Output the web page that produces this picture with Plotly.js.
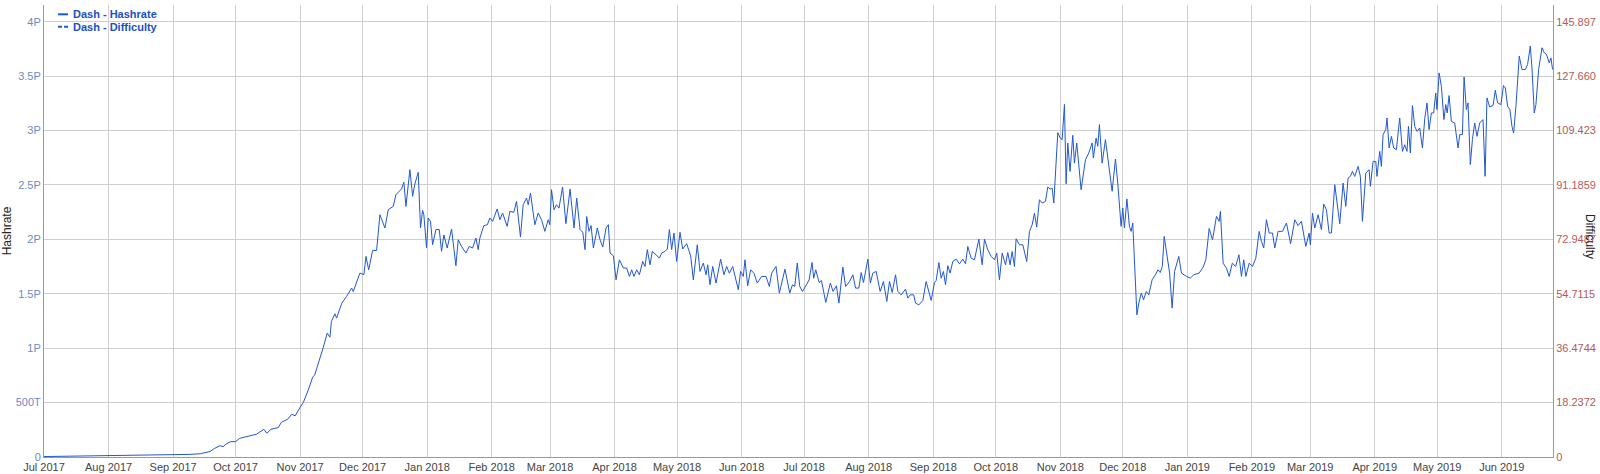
<!DOCTYPE html>
<html>
<head>
<meta charset="utf-8">
<script src="https://cdn.plot.ly/plotly-3.0.1.min.js"></script>
<style>html,body{margin:0;padding:0;background:#fff;}#chart{width:1600px;height:474px;}</style>
</head>
<body>
<div id="chart"></div>
<script>
// Series start date; each point is [days since start, hashrate in PH/s]
const startDate = '2017-07-01';
const hashratePoints = [
[0,0.004],[10,0.006],[20,0.008],[31,0.011],[40,0.013],[50,0.016],[62,0.02],[70,0.024],[75,0.03],[78,0.04],
[79.7,0.05],[82,0.08],[84.5,0.104],[86,0.095],[87.5,0.12],[89.6,0.141],[92,0.141],[94,0.172],[98,0.193],[102,0.209],
[105.6,0.255],[107,0.218],[109,0.255],[112.5,0.27],[114,0.319],[117,0.347],[119,0.393],[120.6,0.378],[123,0.457],[124.5,0.5],
[126.9,0.616],[129,0.733],[130,0.755],[132.5,0.899],[134,1.0],[136,1.138],[137.3,1.1],[138,1.245],[139.7,1.316],[140.5,1.276],
[143,1.414],[145.3,1.475],[147.7,1.552],[148.5,1.521],[151.7,1.69],[153.6,1.675],[154.6,1.843],[155.9,1.72],[157.8,1.898],[159.7,1.898],
[161.3,2.226],[163.7,2.104],[165.3,2.272],[167.7,2.303],[169,2.41],[171.7,2.463],[172.8,2.524],[173.8,2.303],
[175.7,2.64],[177,2.395],[178,2.502],[179.7,2.616],[180.8,2.104],[181.8,2.266],[182.4,2.226],[183.7,1.92],[184.5,2.196],[185.6,2.165],
[186.6,1.95],[188.2,2.09],[189.8,2.09],[190.9,1.89],[192,2.04],[193.6,1.92],[195.7,2.095],[197.8,1.757],[198.9,1.996],[200.5,1.935],
[202.6,1.874],[204.2,1.935],[205.8,1.92],[207.4,2.012],[208.5,1.905],[209.3,2.012],[211.2,2.126],[212.9,2.134],[214.1,2.196],[215.4,2.165],
[217.6,2.279],[218.9,2.18],[220.2,2.242],[222.4,2.119],[223.7,2.257],[225.6,2.248],[226.9,2.349],[228.8,2.021],[230.1,2.318],[231.7,2.379],
[232.5,2.318],[233.6,2.425],[235.7,2.134],[237.3,2.242],[238.9,2.18],[240.5,2.073],[242.1,2.18],[242.9,2.134],[243.7,2.456],[244.9,2.272],
[246.1,2.318],[247.3,2.287],[249,2.481],[250.6,2.144],[252.6,2.462],[254.5,2.104],[255.8,2.379],[257.4,2.09],[258.7,2.065],[259.8,1.905],
[260.6,2.21],[261.7,2.073],[262.7,2.126],[263.8,1.92],[265.7,2.104],[267,1.996],[268.3,1.929],[269.9,2.104],[271,2.134],[271.8,1.874],
[273.4,1.849],[274.7,1.628],[276.3,1.812],[278.2,1.736],[279.8,1.736],[281.1,1.659],[282.2,1.72],[283.3,1.659],[284.6,1.72],[285.9,1.674],
[287.5,1.797],[288.6,1.751],[289.7,1.905],[291,1.766],[292.1,1.889],[293.9,1.858],[295.5,1.828],[296.6,1.874],[298.2,1.889],[299.3,1.911],
[300.3,2.09],[301.4,1.905],[302.5,2.058],[303.8,1.797],[305.4,2.065],[306.7,1.911],[307.8,1.935],[308.6,1.96],[310.5,1.849],[311.8,1.628],
[313.7,1.95],[315,1.705],[316.6,1.782],[317.9,1.674],[318.7,1.766],[319.8,1.582],[321.1,1.751],[322.7,1.598],[324.9,1.818],[326.5,1.674],
[327.8,1.751],[329.1,1.689],[330.7,1.751],[333.4,1.537],[334.5,1.705],[335.8,1.659],[336.6,1.812],[337.9,1.573],[339.3,1.72],[340.9,1.689],
[342.5,1.598],[344.6,1.659],[346.7,1.659],[348.3,1.567],[349.4,1.689],[351.5,1.751],[353.1,1.506],[355.8,1.726],[358.1,1.506],
[359.4,1.582],[360.5,1.567],[361.7,1.782],[362.9,1.567],[364.2,1.521],[366.1,1.582],[367.4,1.628],[368.8,1.787],[369.6,1.643],[370.6,1.72],
[372.2,1.603],[373.3,1.622],[375.4,1.42],[377.6,1.598],[378.9,1.521],[380.5,1.573],[381.7,1.414],[383.6,1.745],[384.9,1.567],[386.8,1.613],
[388.4,1.674],[389.7,1.552],[391.3,1.552],[392.4,1.695],[393.5,1.603],[395.6,1.818],[396.8,1.598],[398,1.69],[399.6,1.705],[400.4,1.628],
[401.5,1.521],[403.1,1.613],[404.7,1.429],[406,1.613],[407.3,1.512],[408.9,1.674],[410,1.521],[411.6,1.49],[413.7,1.542],[414.8,1.46],
[416,1.49],[417.6,1.49],[418.5,1.414],[420.1,1.398],[422,1.438],[423.6,1.613],[424.9,1.521],[426,1.438],[427.6,1.603],[428.4,1.622],
[429.7,1.787],[430.8,1.643],[431.9,1.705],[432.9,1.582],[434,1.757],[435.1,1.69],[436.4,1.797],[438,1.818],[439.6,1.775],[441.2,1.818],
[442.5,1.775],[443.6,1.934],[445.2,1.827],[446.8,1.812],[448.9,2.002],[450.5,1.766],[451.6,2.002],[453.2,1.904],[454.8,1.843],[456.4,1.812],
[457.5,1.873],[458.8,1.628],[460.1,1.873],[461.7,1.766],[462.8,1.879],[463.9,1.766],[464.9,1.888],[466,1.751],[466.8,2.005],[468.4,1.95],
[470,1.95],[471.9,1.796],[473.2,2.073],[474.5,2.134],[475.6,2.241],[476.7,2.113],[478,2.364],[479.3,2.334],[480.9,2.349],[482,2.48],
[483.2,2.462],[484.1,2.471],[484.9,2.334],[486,2.748],[486.8,2.98],[488,2.93],[488.9,2.916],[490,3.24],[490.8,2.51],[491.6,2.885],
[492.7,2.624],[494,2.956],[494.8,2.7],[495.9,2.885],[497.2,2.594],[498,2.456],[500.1,2.732],[501.7,2.793],[503.3,2.885],[503.9,2.747],
[505.2,2.93],[506,2.855],[506.8,3.054],[508.1,2.7],[509.7,2.916],[511.3,2.685],[512.9,2.441],[514.5,2.738],[515.6,2.517],[517.2,2.119],
[518,2.288],[518.8,2.104],[520,2.371],[521.2,2.119],[522,2.073],[522.8,2.15],[524.8,1.306],[525.7,1.414],[526.9,1.506],[528,1.445],
[529.3,1.521],[530.5,1.49],[532.1,1.628],[533.7,1.674],[534.9,1.72],[536,1.695],[537,1.751],[537.9,2.027],[539.2,1.843],[540.5,1.69],
[541.7,1.368],[542.9,1.705],[544.9,1.843],
[546.2,1.69],[548.6,1.659],[550.5,1.644],[552.1,1.674],[554.7,1.69],[556.6,1.745],[557.9,1.812],[559.5,2.1],[561.1,1.996],[563,2.211],
[564.3,2.165],[564.9,2.257],[566.2,1.781],[567.8,1.735],[569.1,1.659],[570.6,1.781],[572.2,1.751],[573.8,1.858],[575,1.659],[576.1,1.812],
[577.1,1.659],[578.7,1.781],[580.3,1.751],[581.9,1.827],[583.5,2.073],[584.6,1.981],[585.7,1.92],[587,2.18],[588.3,2.058],[589.9,2.058],
[591,1.92],[592.6,2.073],[594.7,2.073],[596.6,2.15],[598.6,1.96],[600.6,2.18],[602.2,2.126],[603.8,2.165],[605.9,1.935],[607.5,2.058],
[608.1,1.95],[609.1,2.241],[610.2,2.104],[611.8,2.226],[613.4,2.089],[614.5,2.324],[615.8,2.272],[617.1,2.058],[618.2,2.058],[619.8,2.502],
[620.9,2.333],[622.2,2.143],[623.8,2.517],[625.1,2.303],[626.2,2.563],[627.3,2.578],[628.3,2.624],[629.4,2.578],[631,2.67],[632.1,2.578],
[633.1,2.165],[634.7,2.609],[636.3,2.639],[636.9,2.487],[638.2,2.716],[639.5,2.716],[640.1,2.578],[641.4,2.808],[642.2,2.67],[643,2.962],
[644.3,3.008],[644.9,3.115],[645.9,2.839],[647,2.946],[648.1,2.839],[649.4,2.824],[651,3.115],[652.3,2.808],[653.4,2.869],[654.5,2.808],
[655.2,3.038],[656.1,2.793],[657.1,3.229],[658.2,3.038],[659.3,2.992],[660.6,3.023],[661.9,2.839],[663,3.106],[664.1,3.253],[665.1,3.008],
[666.2,3.161],[667.3,3.161],[668.3,3.345],[668.9,3.192],[669.9,3.529],[671,3.406],[672.2,3.1],[673.1,3.238],[673.8,3.161],[674.7,3.321],
[675.8,3.084],[677.4,3.069],[679,2.839],[679.8,2.962],[681.1,2.962],[681.9,3.492],[683,3.192],[683.8,3.253],[684.9,2.686],[685.9,2.916],
[687,3.069],[688.1,2.946],[689.4,3.069],[691,3.1],[692,2.579],[692.9,3.299],[694.2,3.216],[695.8,3.229],[696.9,3.37],[698,3.253],
[699.6,3.238],[700.8,3.413],[701.7,3.391],[702.8,3.223],[703.9,3.192],[704.9,3.038],[705.7,2.977],[706.8,3.223],[708.4,3.683],[709.7,3.56],
[711.3,3.56],[712.4,3.606],[713.7,3.775],[714.5,3.575],[715.6,3.161],[716.4,3.238],[717.7,3.56],[719.3,3.76],[720.4,3.714],[721.5,3.698],
[722.8,3.621],[723.6,3.667],[724.4,3.56]
];

const seriesNames = ['Dash - Hashrate', 'Dash - Difficulty'];
const hashrateTickVals = [0, 0.5, 1, 1.5, 2, 2.5, 3, 3.5, 4];
const hashrateTickText = ['0', '500T', '1P', '1.5P', '2P', '2.5P', '3P', '3.5P', '4P'];
const difficultyTickVals = [0, 18.2372, 36.4744, 54.7115, 72.9487, 91.1859, 109.423, 127.660, 145.897];
const difficultyTickText = ['0', '18.2372', '36.4744', '54.7115', '72.9487', '91.1859', '109.423', '127.660', '145.897'];

const DAY = 86400000;
const t0 = Date.parse(startDate + 'T00:00:00Z');
function toDate(d) { return new Date(t0 + d * DAY).toISOString().replace('T', ' ').replace('Z', ''); }
const dates = hashratePoints.map(p => toDate(p[0]));
const hashrate = hashratePoints.map(p => p[1]);

const FONT = 'Arial, "Liberation Sans", sans-serif';
const LINE = '#2158d0';
const yTop = 4.153;
const y2Top = yTop * (145.897 / 4);

const traces = [
  { type: 'scatter', mode: 'lines', name: seriesNames[0], x: dates, y: hashrate,
    line: { color: LINE, width: 1 }, showlegend: false, hoverinfo: 'x+y' },
  { type: 'scatter', mode: 'lines', name: seriesNames[1], x: [], y: [], yaxis: 'y2',
    line: { color: LINE, width: 1, dash: 'dash' }, showlegend: false }
];

const layout = {
  width: 1600, height: 474,
  margin: { l: 44, r: 47, t: 5, b: 17, pad: 0 },
  paper_bgcolor: '#fff', plot_bgcolor: '#fff',
  font: { family: FONT, size: 11, color: '#444' },
  showlegend: false,
  xaxis: {
    type: 'date', range: [toDate(0), toDate(724.6)],
    tick0: startDate, dtick: 'M1', tickformat: '%b %Y',
    showgrid: true, gridcolor: '#cfcfcf', gridwidth: 1,
    showline: true, linecolor: '#9a9a9a', linewidth: 1,
    ticks: '', zeroline: false,
    tickfont: { family: FONT, size: 11, color: '#444' }
  },
  yaxis: {
    range: [0, yTop], tickmode: 'array', tickvals: hashrateTickVals, ticktext: hashrateTickText,
    showgrid: true, gridcolor: '#cfcfcf', gridwidth: 1, zeroline: false,
    showline: true, linecolor: '#9a9a9a', linewidth: 1, ticks: '',
    tickfont: { family: FONT, size: 11, color: '#6d89c9' },
    title: { text: 'Hashrate', font: { family: FONT, size: 12, color: '#222' }, standoff: 6 }
  },
  yaxis2: {
    overlaying: 'y', side: 'right', anchor: 'x',
    range: [0, y2Top], tickmode: 'array', tickvals: difficultyTickVals, ticktext: difficultyTickText,
    showgrid: false, zeroline: false,
    showline: true, linecolor: '#9a9a9a', linewidth: 1, ticks: '',
    tickfont: { family: FONT, size: 11, color: '#b35a57' }
  },
  shapes: [
    { type: 'line', xref: 'paper', yref: 'paper', x0: 0.0093, x1: 0.0159, y0: 0.9794, y1: 0.9794,
      line: { color: LINE, width: 2 } },
    { type: 'line', xref: 'paper', yref: 'paper', x0: 0.0093, x1: 0.0159, y0: 0.952, y1: 0.952,
      line: { color: LINE, width: 2, dash: '4px,2px' } }
  ],
  annotations: [
    { xref: 'paper', yref: 'paper', x: 0.0179, y: 0.9794, xanchor: 'left', yanchor: 'middle',
      text: seriesNames[0], showarrow: false,
      font: { family: FONT, size: 11, color: '#1c4fc4', weight: 'bold' } },
    { xref: 'paper', yref: 'paper', x: 0.0179, y: 0.952, xanchor: 'left', yanchor: 'middle',
      text: seriesNames[1], showarrow: false,
      font: { family: FONT, size: 11, color: '#1c4fc4', weight: 'bold' } },
    { xref: 'paper', yref: 'paper', x: 1, xshift: 37, y: 0.489, xanchor: 'center', yanchor: 'middle',
      text: 'Difficulty', textangle: 90, showarrow: false,
      font: { family: FONT, size: 12, color: '#222' } }
  ]
};

Plotly.newPlot('chart', traces, layout, { displayModeBar: false, staticPlot: true });
</script>
</body>
</html>
